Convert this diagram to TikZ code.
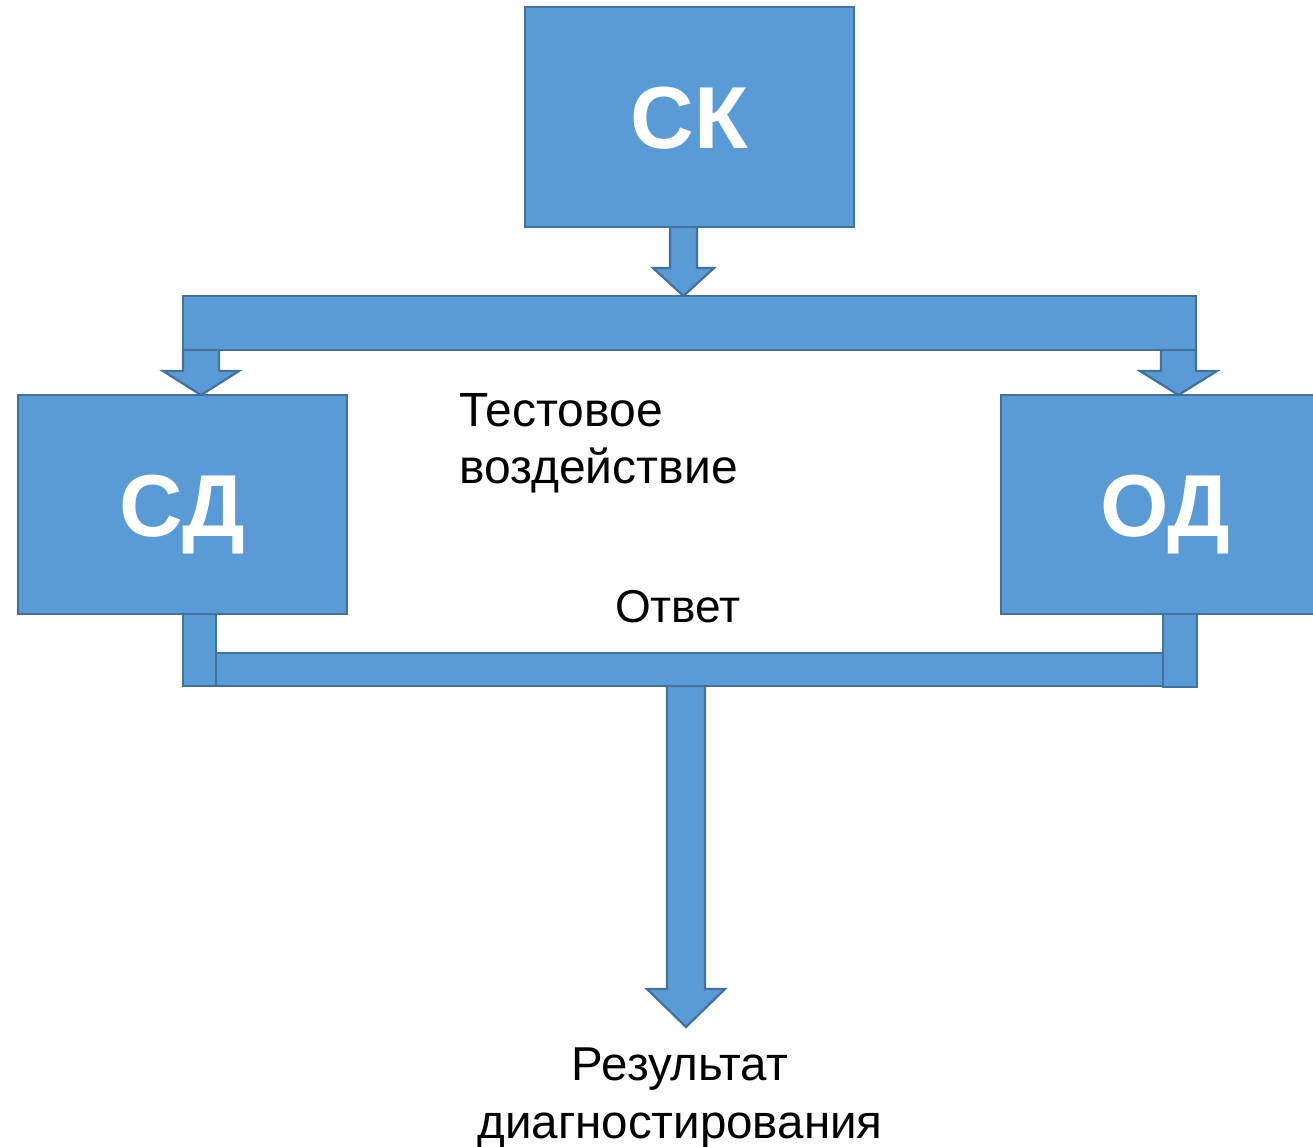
\documentclass[tikz,border=0pt]{standalone}
\usepackage{fontspec}
\setmainfont{Liberation Sans}
\definecolor{blk}{HTML}{5B9BD5}
\definecolor{edgeblue}{HTML}{41719C}
\tikzset{
  blockshape/.style={fill=blk, draw=edgeblue, line width=2.2pt, line join=miter},
  box/.style={blockshape, minimum width=329pt, minimum height=219pt, inner sep=0pt,
    text=white, font=\fontsize{88}{88}\selectfont\bfseries, text height=63pt, text depth=0pt},
  lbl/.style={font=\fontsize{46}{58}\selectfont, inner sep=0pt, text=black}
}
\begin{document}
\begin{tikzpicture}[x=1pt,y=-1pt]
\useasboundingbox (0,0) rectangle (1313,1146);
% down arrow to result
\draw[blockshape] (667,686) -- (667,989) -- (647,989) -- (686,1027) -- (725,989) -- (705,989) -- (705,686) -- cycle;
% bottom bar and stubs
\draw[blockshape] (216,653) rectangle (1163,686);
\draw[blockshape] (183,614) rectangle (216,686);
\draw[blockshape] (1163,614) rectangle (1197,687);
% top bar
\draw[blockshape] (183,296) rectangle (1196,350);
% arrow from SK to bar
\draw[blockshape] (670,227) -- (670,268) -- (653,268) -- (683.5,296) -- (714,268) -- (697,268) -- (697,227) -- cycle;
% arrows from bar to boxes
\draw[blockshape] (183,350) -- (183,371) -- (163,371) -- (201,395) -- (239,371) -- (219,371) -- (219,350) -- cycle;
\draw[blockshape] (1161,350) -- (1161,371) -- (1140,371) -- (1178.5,395) -- (1217,371) -- (1196,371) -- (1196,350) -- cycle;
% boxes
\node[box, minimum height=220pt] (sk) at (689.5,117) {СК};
\node[box] (sd) at (182.5,504.5) {СД};
\node[box] (od) at (1165.5,504.5) {ОД};
% labels
\node[lbl, font=\fontsize{48}{57}\selectfont, align=left, anchor=north west] (test) at (459,393) {Тестовое\\воздействие};
\node[lbl, anchor=base] (otv) at (678,622) {Ответ};
\node[lbl, font=\fontsize{47.5}{58}\selectfont, align=center, anchor=north] (res) at (680,1048) {Результат\\диагностирования};
\end{tikzpicture}
\end{document}
